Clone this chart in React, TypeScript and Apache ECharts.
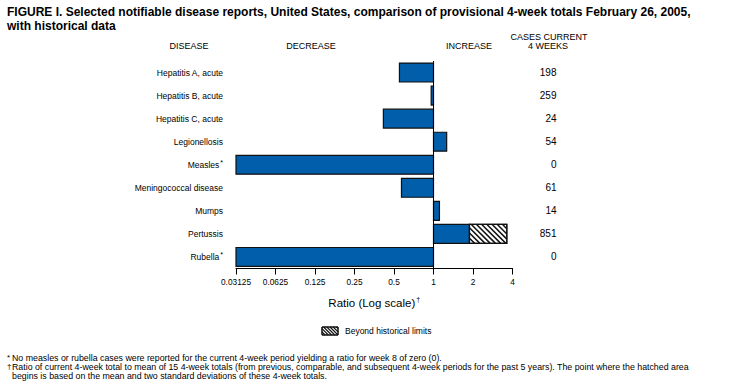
import React, { useEffect, useRef } from "react";
import * as echarts from "echarts";

const diseases = [
  "Hepatitis A, acute",
  "Hepatitis B, acute",
  "Hepatitis C, acute",
  "Legionellosis",
  "Measles",
  "Meningococcal disease",
  "Mumps",
  "Pertussis",
  "Rubella",
];
const footnoted = [false, false, false, false, true, false, false, false, true];
const ratios = [0.55, 0.96, 0.415, 1.26, 0, 0.57, 1.11, 1.88, 0];
const beyondLimits: (number | null)[] = [null, null, null, null, null, null, null, 3.62, null];
const casesCurrent = [198, 259, 24, 54, 0, 61, 14, 851, 0];
const ratioTicks = [0.03125, 0.0625, 0.125, 0.25, 0.5, 1, 2, 4];

const titleLines = [
  "FIGURE I. Selected notifiable disease reports, United States, comparison of provisional 4-week totals February 26, 2005,",
  "with historical data",
];
const footnotes = [
  { mark: "*", text: "No measles or rubella cases were reported for the current 4-week period yielding a ratio for week 8 of zero (0)." },
  { mark: "†", text: "Ratio of current 4-week total to mean of 15 4-week totals (from previous, comparable, and subsequent 4-week periods for the past 5 years). The point where the hatched area" },
  { mark: "", text: "begins is based on the mean and two standard deviations of these 4-week totals." },
];

const FONT = "Arial, 'Liberation Sans', Helvetica, sans-serif";
const BLUE = "#005EAA";
const AXIS_MIN = ratioTicks[0];
const AXIS_MAX = ratioTicks[ratioTicks.length - 1];

function hatchLines(x0: number, y0: number, w: number, h: number, step: number, lw: number) {
  const out: any[] = [];
  const x1 = x0 + w;
  for (let t = x0 - h; t < x1; t += step) {
    const sx = Math.max(t, x0);
    const ex = Math.min(t + h, x1);
    if (ex - sx < 0.3) continue;
    out.push({
      type: "line",
      shape: { x1: sx, y1: y0 + (sx - t), x2: ex, y2: y0 + (ex - t) },
      style: { stroke: "#111", lineWidth: lw },
    });
  }
  return out;
}

export default function App() {
  const ref = useRef<HTMLDivElement>(null);
  useEffect(() => {
    if (!ref.current) return;
    const chart = echarts.init(ref.current, undefined, { renderer: "svg" });
    const data = ratios.map((r, i) => [i, r]);

    const graphics: any[] = [];
    titleLines.forEach((t, i) => {
      graphics.push({
        type: "text",
        x: 7,
        y: 12 + i * 14,
        style: { text: t, font: `bold 12px ${FONT}`, fill: "#000", verticalAlign: "middle" },
      });
    });
    const headers = [
      { t: "DISEASE", x: 189, y: 46 },
      { t: "DECREASE", x: 311, y: 46 },
      { t: "INCREASE", x: 469, y: 46 },
      { t: "CASES CURRENT", x: 549, y: 37 },
      { t: "4 WEEKS", x: 548, y: 46 },
    ];
    headers.forEach((h) => {
      graphics.push({
        type: "text",
        x: h.x,
        y: h.y,
        style: { text: h.t, font: `9px ${FONT}`, fill: "#000", align: "center", verticalAlign: "middle" },
      });
    });
    // legend
    const lx = 322, ly = 327, lw = 16, lh = 8;
    graphics.push({ type: "rect", shape: { x: lx, y: ly, width: lw, height: lh }, style: { fill: "#fff", stroke: "#111", lineWidth: 1 } });
    hatchLines(lx, ly, lw, lh, 3.2, 1.1).forEach((l) => graphics.push(l));
    graphics.push({ type: "rect", shape: { x: lx, y: ly, width: lw, height: lh }, style: { fill: "none", stroke: "#111", lineWidth: 1 } });
    graphics.push({
      type: "text",
      x: 345,
      y: lh / 2 + ly,
      style: { text: "Beyond historical limits", font: `8.5px ${FONT}`, fill: "#000", verticalAlign: "middle" },
    });
    footnotes.forEach((f, i) => {
      const y = 358 + i * 9;
      if (f.mark) {
        graphics.push({ type: "text", x: 7, y: y - 1, style: { text: f.mark, font: `8px ${FONT}`, fill: "#000", verticalAlign: "middle" } });
      }
      graphics.push({ type: "text", x: 12, y, style: { text: f.text, font: `8.8px ${FONT}`, fill: "#000", verticalAlign: "middle" } });
    });

    chart.setOption({
      animation: false,
      grid: { left: 236, right: 735 - 512.5, top: 61, bottom: 388 - 268.5, containLabel: false },
      xAxis: {
        type: "log",
        logBase: 2,
        min: AXIS_MIN,
        max: AXIS_MAX,
        splitLine: { show: false },
        axisLine: { show: true, onZero: false, lineStyle: { color: "#000", width: 1 } },
        axisTick: { show: true, length: 6, lineStyle: { color: "#000" } },
        minorTick: { show: false },
        axisLabel: {
          color: "#000",
          fontSize: 8.3,
          fontFamily: FONT,
          margin: 9,
          formatter: (v: number) => {
            let best = ratioTicks[0];
            ratioTicks.forEach((t) => {
              if (Math.abs(Math.log2(t) - Math.log2(v)) < Math.abs(Math.log2(best) - Math.log2(v))) best = t;
            });
            return String(best);
          },
        },
        name: "{n|Ratio (Log scale)}{s|†}",
        nameLocation: "middle",
        nameGap: 27,
        nameTextStyle: {
          rich: {
            n: { fontSize: 11.5, fontFamily: FONT, color: "#000" },
            s: { fontSize: 7, fontFamily: FONT, color: "#000", padding: [0, 0, 7, 1] },
          },
        },
      },
      yAxis: [
        {
          type: "category",
          data: diseases,
          inverse: true,
          axisLine: { show: false },
          axisTick: { show: false },
          splitLine: { show: false },
          axisLabel: {
            color: "#000",
            margin: 13,
            formatter: (v: string, i: number) => (footnoted[i] ? `{n|${v}}{s|*}` : `{n|${v}}`),
            rich: {
              n: { fontSize: 8.5, fontFamily: FONT, color: "#000" },
              s: { fontSize: 7, fontFamily: FONT, color: "#000", padding: [0, 0, 5, 1] },
            },
          },
        },
        {
          type: "category",
          data: casesCurrent.map(String),
          inverse: true,
          position: "right",
          axisLine: { show: false },
          axisTick: { show: false },
          splitLine: { show: false },
          axisLabel: { color: "#000", fontSize: 10, fontFamily: FONT, align: "right", margin: 44 },
        },
      ],
      graphic: graphics,
      series: [
        {
          type: "custom",
          xAxisIndex: 0,
          yAxisIndex: 0,
          encode: { x: 1, y: 0 },
          data,
          renderItem: (params: any, api: any) => {
            const i = api.value(0);
            const v = Math.min(Math.max(api.value(1), AXIS_MIN), AXIS_MAX);
            const base = api.coord([1, i]);
            const end = api.coord([v, i]);
            const bandH = api.size([1, 1], [1, i])[1];
            const h = bandH * 0.82;
            const y0 = base[1] - h / 2;
            const x0 = Math.min(base[0], end[0]);
            const w = Math.abs(end[0] - base[0]);
            const children: any[] = [
              { type: "rect", shape: { x: x0, y: y0, width: w, height: h }, style: { fill: BLUE, stroke: "#111", lineWidth: 1.2 } },
            ];
            const b = beyondLimits[params.dataIndex];
            if (b != null) {
              const hEnd = api.coord([Math.min(b, AXIS_MAX), i]);
              const hx = end[0];
              const hw = hEnd[0] - end[0];
              children.push({ type: "rect", shape: { x: hx, y: y0, width: hw, height: h }, style: { fill: "#fff", stroke: "#111", lineWidth: 1.2 } });
              hatchLines(hx, y0, hw, h, 5.2, 1.5).forEach((l) => children.push(l));
              children.push({ type: "rect", shape: { x: hx, y: y0, width: hw, height: h }, style: { fill: "none", stroke: "#111", lineWidth: 1.2 } });
            }
            return { type: "group", children };
          },
          markLine: {
            silent: true,
            symbol: "none",
            label: { show: false },
            lineStyle: { color: "#000", width: 1, type: "solid" },
            data: [{ xAxis: 1 }],
          },
          z: 2,
        },
      ],
    });
    return () => chart.dispose();
  }, []);
  return <div ref={ref} style={{ width: 735, height: 388, position: "absolute", left: 0, top: 0, background: "#fff" }} />;
}
